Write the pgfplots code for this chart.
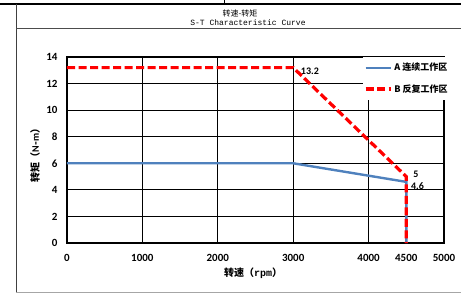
\documentclass[border=0pt]{standalone}
\usepackage{pgfplots}
\pgfplotsset{compat=1.18}
\usepackage{fontspec}
\setmainfont{Carlito}
\newfontfamily\cjk{Noto Sans CJK SC}
\newfontfamily\monofont{Liberation Mono}
\definecolor{lineA}{RGB}{79,129,189}
\definecolor{lineB}{RGB}{255,0,0}
\begin{document}
\begin{tikzpicture}[x=1pt,y=1pt]
\useasboundingbox (0,0) rectangle (461,293);
% frame
\draw[black, line width=1.5pt] (0,289) -- (461,289);
\draw[black, line width=0.8pt] (224,289) -- (224,293);
\draw[black!75, line width=1pt] (16,289) -- (16,1);
\draw[black!70, line width=1pt] (16,265) -- (461,265);
\draw[black!35, line width=1pt] (16,1) -- (461,1);
\node[font=\cjk\fontsize{8}{9}\selectfont, inner sep=0pt] at (240,280) {转速-转矩};
\node[font=\monofont\fontsize{8}{9}\selectfont, inner sep=0pt] at (248,270) {S-T Characteristic Curve};
\begin{axis}[
  at={(67pt,50pt)}, anchor=south west,
  scale only axis, width=377pt, height=186pt,
  xmin=0, xmax=5000, ymin=0, ymax=14,
  xtick={0,1000,2000,3000,4000,5000},
  extra x ticks={4500},
  extra x tick style={grid=none},
  ytick={0,2,...,14},
  grid=major,
  grid style={black, line width=1pt},
  axis line style={black, line width=1.2pt},
  major tick length=0pt,
  scaled x ticks=false,
  xticklabel style={font=\bfseries\fontsize{11}{12}\selectfont, yshift=-8pt},
  yticklabel style={font=\bfseries\fontsize{11}{12}\selectfont, xshift=-6pt},
  /pgf/number format/assume math mode=true,
  /pgf/number format/1000 sep={},
  xlabel={\cjk\bfseries 转速（{\monofont\bfseries rpm}）},
  ylabel={\cjk\bfseries 转矩（{\normalfont\bfseries N{\cjk\bfseries -}m}）},
  xlabel style={font=\fontsize{10}{11}\selectfont, at={(rel axis cs:0.494,0)}, anchor=center, yshift=-30pt},
  ylabel style={font=\fontsize{10}{11}\selectfont, at={(rel axis cs:0,0.485)}, anchor=center, yshift=32pt},
  legend style={at={(rel axis cs:0.785,1)}, anchor=north west, draw=none, fill=white,
    inner xsep=1pt, inner ysep=4pt, row sep=8pt,
    column 2/.style={text width=66pt},
    font=\cjk\bfseries\fontsize{9}{10}\selectfont},
  legend cell align=left,
  legend image code/.code={\draw[#1] (0pt,0pt) -- (25pt,0pt);},
  clip=false,
]
\addplot[lineA, line width=2.4pt] coordinates {(0,6) (3000,6) (4500,4.6) (4500,0)};
\addlegendentry{A\ 连续工作区}
\addplot[lineB, line width=3.2pt, dash pattern=on 8pt off 3.5pt] coordinates {(0,13.2) (3000,13.2) (4500,5) (4500,0)};
\addlegendentry{B\ 反复工作区}
\node[anchor=west, font=\bfseries\fontsize{10}{11}\selectfont, inner sep=0pt] at (axis cs:3100,12.95) {13.2};
\node[anchor=west, font=\bfseries\fontsize{10}{11}\selectfont, inner sep=0pt] at (axis cs:4590,5.2) {5};
\node[anchor=west, font=\bfseries\fontsize{10}{11}\selectfont, inner sep=0pt] at (axis cs:4560,4.3) {4.6};
\end{axis}
\end{tikzpicture}
\end{document}
